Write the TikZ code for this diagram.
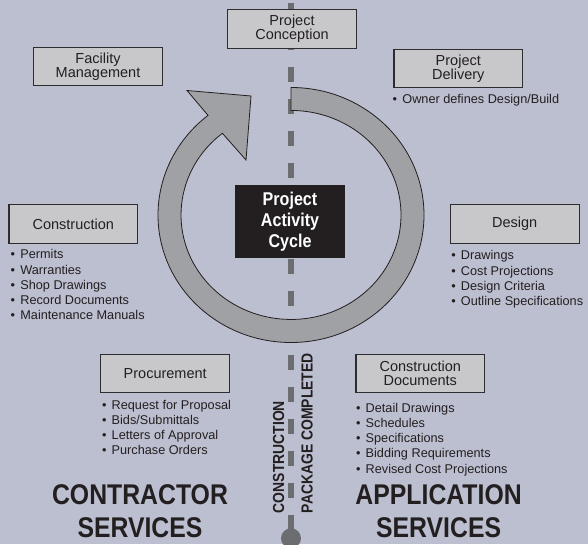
\documentclass[tikz,border=0pt]{standalone}
\usepackage{fontspec}
\setmainfont{Liberation Sans}
\newfontfamily\condbold{Liberation Sans Bold}[FakeStretch=0.87]
\definecolor{bg}{RGB}{188,191,208}
\definecolor{boxfill}{RGB}{200,200,202}
\definecolor{ringfill}{RGB}{160,161,165}
\definecolor{dashgray}{RGB}{108,109,113}
\definecolor{ink}{RGB}{35,31,32}
\definecolor{boxline}{RGB}{45,45,47}
% small bullet followed by a fixed gap
\newcommand\bul{\makebox[9.7pt][l]{•}}
\begin{document}
\begin{tikzpicture}[x=1pt,y=1pt,
  stage/.style={draw=boxline, line width=1.1pt, fill=boxfill,
    minimum width=128.7pt, minimum height=38.3pt, inner sep=0pt,
    align=center, text=ink, font=\fontsize{14.5}{13.7}\selectfont},
  notes/.style={anchor=base west, inner sep=0pt, text=ink,
    font=\fontsize{12.7}{15.2}\selectfont},
  service/.style={anchor=base, inner sep=0pt, text=ink,
    font=\condbold\fontsize{28.5}{33}\selectfont},
  vlabel/.style={rotate=90, anchor=base west, inner sep=0pt, text=ink,
    font=\condbold\fontsize{16}{16}\selectfont},
  divider/.style={draw=dashgray, line width=5.7pt}]

% canvas
\fill[bg] (0,0) rectangle (588,544);
\useasboundingbox (0,0) rectangle (588,544);

% dividing line with end knob
\coordinate (lineTop) at (291,541.3);
\coordinate (lineMid) at (291,29.3);
\coordinate (knob) at (291,5.7);
\draw[divider, dash pattern=on 15.5pt off 16.5pt] (lineTop) -- (lineMid);
\draw[divider] (lineMid) -- (knob);
\fill[dashgray] (knob) circle (10);

% cycle arrow
\draw[fill=ringfill, draw=ink, line width=0.8pt, line join=miter]
  (291,456.5) arc[start angle=90, end angle=-231.4, x radius=133, y radius=127.5]
  -- (187,453.5) -- (251,448) -- (246,384) -- (222.4,410.7)
  arc[start angle=-231.4, end angle=90, x radius=110, y radius=104.5]
  -- cycle;

% centre label
\node[fill=ink, minimum width=110pt, minimum height=73.3pt, inner sep=0pt,
  align=center, text=white, font=\condbold\fontsize{18.5}{20.8}\selectfont]
  (cycle) at (290,322.3) {Project\\Activity\\Cycle};

% stages
\node[stage] (conception) at (292,515) {Project\\Conception};
\node[stage] (facility) at (98,477.5) {Facility\\Management};
\node[stage] (delivery) at (458.3,475.5) {Project\\Delivery};
\node[stage] (construction) at (73.3,320) {Construction};
\node[stage] (design) at (514.7,320) {Design};
\node[stage] (procurement) at (165.2,170.5) {Procurement};
\node[stage] (documents) at (420.3,170.5) {Construction\\Documents};

% stage notes
\node[notes] (deliveryNotes) at (392.5,440.7)
  {\begin{tabular}[t]{@{}l@{}}\bul Owner defines Design/Build\end{tabular}};
\node[notes] (constructionNotes) at (10.5,285.1)
  {\begin{tabular}[t]{@{}l@{}}\bul Permits\\ \bul Warranties\\ \bul Shop Drawings\\
   \bul Record Documents\\ \bul Maintenance Manuals\end{tabular}};
\node[notes] (designNotes) at (451.1,284.1)
  {\begin{tabular}[t]{@{}l@{}}\bul Drawings\\ \bul Cost Projections\\
   \bul Design Criteria\\ \bul Outline Specifications\end{tabular}};
\node[notes] (procurementNotes) at (101.8,134.7)
  {\begin{tabular}[t]{@{}l@{}}\bul Request for Proposal\\ \bul Bids/Submittals\\
   \bul Letters of Approval\\ \bul Purchase Orders\end{tabular}};
\node[notes] (documentsNotes) at (355.8,131.7)
  {\begin{tabular}[t]{@{}l@{}}\bul Detail Drawings\\ \bul Schedules\\
   \bul Specifications\\ \bul Bidding Requirements\\ \bul Revised Cost Projections\end{tabular}};

% milestone on the dividing line
\node[vlabel] (milestoneA) at (284,30.7) {CONSTRUCTION};
\node[vlabel] (milestoneB) at (312.7,30.7) {PACKAGE COMPLETED};

% service sides
\node[service] (contractor) at (140,39.5) {CONTRACTOR};
\node[service] (contractorB) at (140,7) {SERVICES};
\node[service] (application) at (438.6,39.5) {APPLICATION};
\node[service] (applicationB) at (438.6,7) {SERVICES};
\end{tikzpicture}
\end{document}
